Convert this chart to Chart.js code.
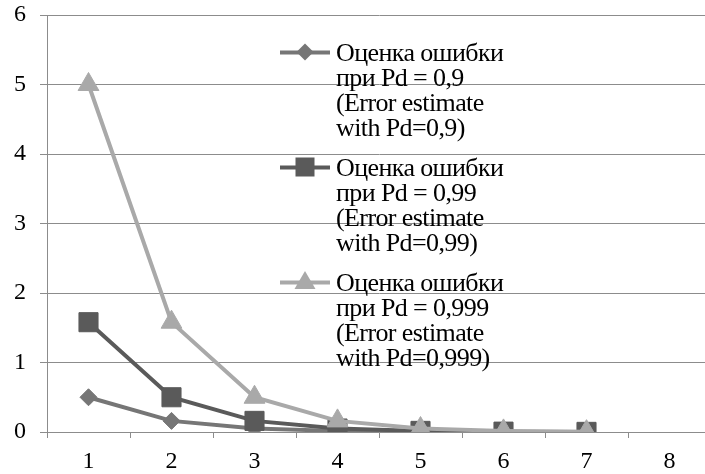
<!DOCTYPE html>
<html>
<head>
<meta charset="utf-8">
<script src="https://cdn.jsdelivr.net/npm/chart.js@4"></script>
<style>
    html, body { margin: 0; padding: 0; background: #fff; overflow: hidden; }
    #wrap { position: relative; width: 705px; height: 474px; overflow: hidden; }
    #chart { position: absolute; left: 0; top: 0; }
    #legend {
        position: absolute; left: 280px; top: 40px;
        font-family: 'Liberation Serif', 'Times New Roman', serif;
        font-size: 26px; line-height: 25px; color: #000;
        letter-spacing: -0.6px;
    }
    .entry { display: flex; margin-bottom: 15px; }
    .entry svg { flex: none; }
    .entry div { margin-left: 6px; white-space: nowrap; }
</style>
</head>
<body>
<div id="wrap">
    <canvas id="chart" width="711" height="474"></canvas>
    <div id="legend"></div>
</div>
<script>
// Data
const categories = ['1', '2', '3', '4', '5', '6', '7', '8'];
const err09 = [0.5, 0.16, 0.05, 0.016, 0.005, 0.0016, 0.0005];
const err099 = [1.58, 0.5, 0.16, 0.05, 0.016, 0.005, 0.0016];
const err0999 = [5.0, 1.58, 0.5, 0.16, 0.05, 0.016, 0.005];
const seriesLabels = [
    ['Оценка ошибки', 'при Pd = 0,9', '(Error estimate', 'with Pd=0,9)'],
    ['Оценка ошибки', 'при Pd = 0,99', '(Error estimate', 'with Pd=0,99)'],
    ['Оценка ошибки', 'при Pd = 0,999', '(Error estimate', 'with Pd=0,999)']
];
const seriesColors = ['#767676', '#5a5a5a', '#a9a9a9'];

const serif = "'Liberation Serif', 'Times New Roman', serif";

function makeSet(label, data, color, style, radius, order) {
    return {
        label: label.join(' '),
        data: data,
        borderColor: color,
        backgroundColor: color,
        borderWidth: 4,
        pointStyle: style,
        pointRadius: radius,
        pointBorderWidth: 1,
        pointBackgroundColor: color,
        pointBorderColor: color,
        tension: 0,
        order: order
    };
}

new Chart(document.getElementById('chart'), {
    type: 'line',
    data: {
        labels: categories,
        datasets: [
            makeSet(seriesLabels[0], err09, seriesColors[0], 'rectRot', 8.5, 2),
            makeSet(seriesLabels[1], err099, seriesColors[1], 'rect', 13.5, 1),
            makeSet(seriesLabels[2], err0999, seriesColors[2], 'triangle', 12, 0)
        ]
    },
    options: {
        responsive: false,
        animation: false,
        // no auto padding: big markers would otherwise shrink the plot area
        layout: { autoPadding: false, padding: { top: 15, right: 0, left: 0, bottom: 0 } },
        plugins: {
            legend: { display: false },
            tooltip: { enabled: false }
        },
        scales: {
            x: {
                offset: true,
                grid: {
                    offset: true,
                    drawOnChartArea: false,
                    drawTicks: true,
                    tickLength: 6,
                    color: '#8c8c8c'
                },
                border: { color: '#8c8c8c', width: 1 },
                ticks: { color: '#000', font: { family: serif, size: 24 }, padding: 9 },
                afterFit: (scale) => {
                    scale.height = 42;
                    scale.paddingLeft = 0;
                    scale.paddingRight = 0;
                }
            },
            y: {
                min: 0,
                max: 6,
                ticks: { stepSize: 1, color: '#000', font: { family: serif, size: 24 }, padding: 14 },
                grid: { color: '#8c8c8c', lineWidth: 1, tickLength: 7 },
                border: { color: '#8c8c8c', width: 1 },
                afterFit: (scale) => {
                    scale.width = 47;
                    scale.paddingTop = 0;
                    scale.paddingBottom = 0;
                }
            }
        }
    }
});

// HTML legend with the marker drawn in a small svg
const legendBox = document.getElementById('legend');
const markers = [
    '<polygon points="25,3.5 33.5,12 25,20.5 16.5,12" />',
    '<rect x="15.5" y="2.5" width="19" height="19" />',
    '<polygon points="25,1 35.5,19 14.5,19" />'
];
seriesLabels.forEach((lines, i) => {
    const c = seriesColors[i];
    const entry = document.createElement('div');
    entry.className = 'entry';
    entry.innerHTML =
        '<svg width="50" height="25" viewBox="0 0 50 25">' +
        '<line x1="0" y1="12.5" x2="50" y2="12.5" stroke="' + c + '" stroke-width="4" />' +
        '<g fill="' + c + '">' + markers[i] + '</g></svg>' +
        '<div>' + lines.join('<br>') + '</div>';
    legendBox.appendChild(entry);
});
</script>
</body>
</html>
